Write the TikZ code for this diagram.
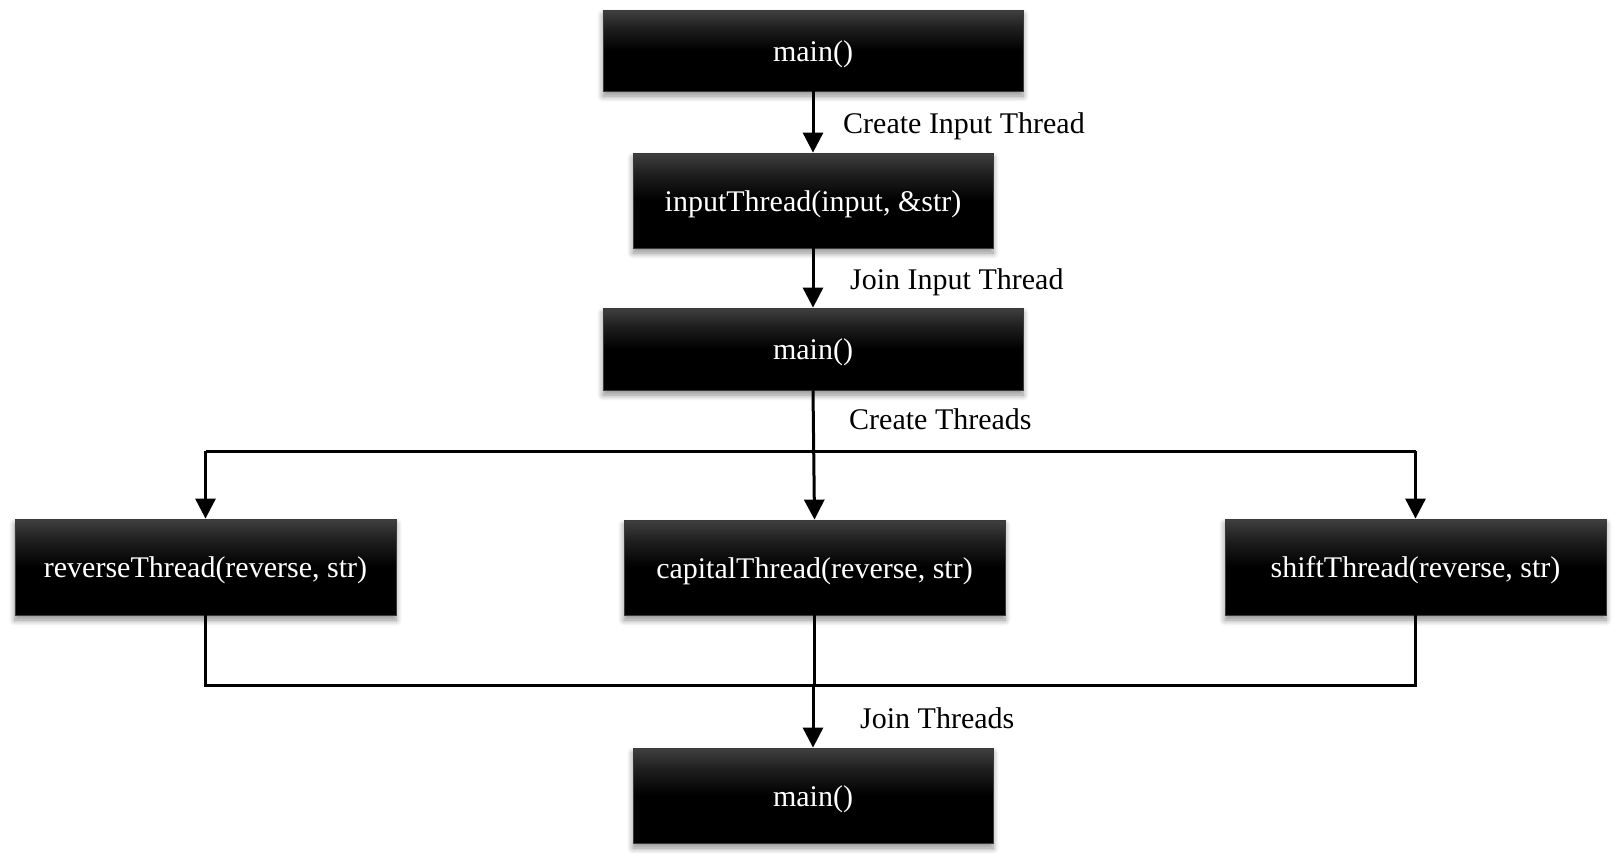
\documentclass[tikz,border=0pt]{standalone}
\usepackage{fontspec}
\setmainfont{Liberation Serif}
\usetikzlibrary{arrows.meta,shadows.blur}
\definecolor{boxtop}{HTML}{404040}
\definecolor{boxedge}{HTML}{3A3A3A}
\pgfdeclareverticalshading{boxshade}{100bp}{color(0bp)=(black); color(25bp)=(black); color(50bp)=(black); color(64bp)=(black!88); color(75bp)=(boxtop); color(100bp)=(boxtop)}
\tikzset{
  boxnode/.style={rectangle, inner sep=0pt, text=white, draw=boxedge, line width=0.8pt,
    shading=boxshade,
    text height=21pt, text depth=0pt,
    blur shadow={shadow xshift=0pt, shadow yshift=-5pt, shadow blur steps=8, shadow blur radius=6pt, shadow opacity=45},
    font=\fontsize{30}{36}\selectfont},
  lbl/.style={inner sep=0pt, anchor=base west, font=\fontsize{30}{36}\selectfont},
  conn/.style={line width=3pt, line join=miter},
  arr/.style={conn, -{Triangle[width=20pt,length=20pt]}}
}
\begin{document}
\begin{tikzpicture}[x=1pt,y=-1pt]
\useasboundingbox (0,0) rectangle (1620,865);
\node[boxnode, minimum width=420pt, minimum height=81pt] (m1) at (813,50.5) {main()};
\node[boxnode, minimum width=360pt, minimum height=95pt] (in) at (813,200.5) {inputThread(input, \&str)};
\node[boxnode, minimum width=420pt, minimum height=82pt] (m2) at (813,349) {main()};
\node[boxnode, minimum width=381pt, minimum height=96pt] (rev) at (205.5,567) {reverseThread(reverse, str)};
\node[boxnode, minimum width=381pt, minimum height=95pt] (cap) at (814.5,567.5) {capitalThread(reverse, str)};
\node[boxnode, minimum width=381pt, minimum height=96pt] (sh) at (1415.5,567) {shiftThread(reverse, str)};
\node[boxnode, minimum width=360pt, minimum height=95pt] (m3) at (813,795.5) {main()};

\node[lbl] (l1) at (843,133) {Create Input Thread};
\node[lbl] (l2) at (850,289) {Join Input Thread};
\node[lbl] (l3) at (849,429) {Create Threads};
\node[lbl] (l4) at (860,728) {Join Threads};

\coordinate (jt) at (813,451);
\coordinate (jb) at (813,685);

\draw[arr] (m1.south) -- (in.north);
\draw[arr] (in.south) -- (m2.north);
\draw[arr] (m2.south) -- (cap.north);
\draw[conn] (rev.north |- jt) -- (sh.north |- jt);
\draw[arr] (rev.north |- jt) -- (rev.north);
\draw[arr] (sh.north |- jt) -- (sh.north);
\draw[conn] (rev.south) |- (jb) -| (sh.south);
\draw[conn] (cap.south) -- (cap.south |- jb);
\draw[arr] (m3.north |- jb) -- (m3.north);
\end{tikzpicture}
\end{document}
